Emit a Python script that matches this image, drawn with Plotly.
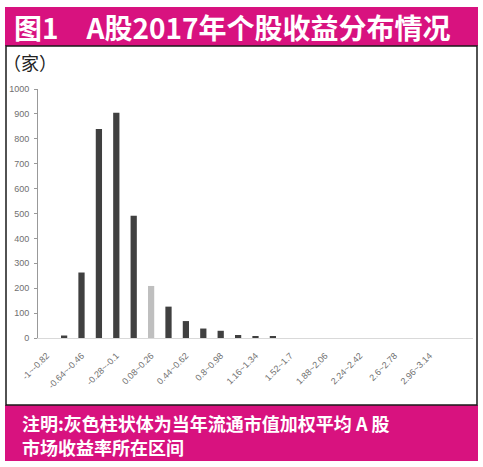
import plotly.graph_objects as go

# return bins (0.18 wide) and number of stocks in each
bins = ["-1~-0.82", "-0.82~-0.64", "-0.64~-0.46", "-0.46~-0.28", "-0.28~-0.1",
        "-0.1~0.08", "0.08~0.26", "0.26~0.44", "0.44~0.62", "0.62~0.8",
        "0.8~0.98", "0.98~1.16", "1.16~1.34", "1.34~1.52", "1.52~1.7",
        "1.7~1.88", "1.88~2.06", "2.06~2.24", "2.24~2.42", "2.42~2.6",
        "2.6~2.78", "2.78~2.96", "2.96~3.14"]
counts = [0, 10, 263, 839, 905, 491, 209, 126, 68, 38, 29, 12, 6, 5,
          0, 0, 0, 0, 0, 0, 0, 0, 0]
market_bin = "0.08~0.26"   # bin holding the cap-weighted market return
y_ticks = [0, 100, 200, 300, 400, 500, 600, 700, 800, 900, 1000]

title_text = "图1　A股2017年个股收益分布情况"
unit_text = "（家）"
note_line1 = "注明:灰色柱状体为当年流通市值加权平均 A 股"
note_line2 = "市场收益率所在区间"

W, H = 483, 467
pink = "#d8127f"
dark = "#404040"
light = "#bfbfbf"

bar_colors = [light if b == market_bin else dark for b in bins]
idx = list(range(len(bins)))


def px(x):
    return x / W


def py(y):
    return 1 - y / H


fig = go.Figure()
fig.add_trace(go.Bar(
    x=idx, y=counts, marker_color=bar_colors, marker_line_width=0,
    width=0.36, hoverinfo="skip"
))

shapes = [
    # title bar
    dict(type="rect", xref="paper", yref="paper", x0=px(5), x1=px(478),
         y0=py(46), y1=py(7), fillcolor=pink, line_width=0, layer="below"),
    # chart frame
    dict(type="rect", xref="paper", yref="paper", x0=px(6), x1=px(477),
         y0=py(405), y1=py(46), fillcolor="rgba(0,0,0,0)",
         line=dict(color="#1a1a1a", width=1.5)),
    # note bar
    dict(type="rect", xref="paper", yref="paper", x0=px(5), x1=px(478),
         y0=py(461), y1=py(405), fillcolor=pink, line_width=0, layer="below"),
]

cjk = "Noto Sans CJK SC"
annotations = [
    dict(text="<b>" + title_text + "</b>", xref="paper", yref="paper",
         x=px(12), y=py(27), xanchor="left", yanchor="middle", showarrow=False,
         font=dict(family=cjk, size=28, color="white")),
    dict(text=unit_text, xref="paper", yref="paper",
         x=px(1), y=py(62), xanchor="left", yanchor="middle", showarrow=False,
         font=dict(family=cjk, size=18, color="#222222")),
    dict(text="<b>" + note_line1 + "</b>", xref="paper", yref="paper",
         x=px(20), y=py(423), xanchor="left", yanchor="middle", showarrow=False,
         font=dict(family=cjk, size=18, color="white")),
    dict(text="<b>" + note_line2 + "</b>", xref="paper", yref="paper",
         x=px(20), y=py(447), xanchor="left", yanchor="middle", showarrow=False,
         font=dict(family=cjk, size=18, color="white")),
]

tick_font = dict(family="Liberation Sans Narrow, Liberation Sans", size=9, color="#707070")

fig.update_layout(
    width=W, height=H,
    margin=dict(l=0, r=0, t=0, b=0),
    paper_bgcolor="white", plot_bgcolor="white",
    showlegend=False,
    shapes=shapes, annotations=annotations,
    xaxis=dict(
        domain=[px(38), px(473)], range=[-0.5, 24.5], automargin=False,
        tickmode="array", tickvals=idx[::2], ticktext=bins[::2],
        tickangle=-45, tickfont=tick_font, ticks="", ticklabelstandoff=8,
        showline=True, linecolor="#d9d9d9", linewidth=1,
        showgrid=False, zeroline=False, fixedrange=True,
    ),
    yaxis=dict(
        domain=[py(338), py(89)], range=[0, 1000], automargin=False,
        tickmode="array", tickvals=y_ticks,
        tickfont=tick_font, ticks="outside", ticklen=3, tickcolor="#999999",
        ticklabelstandoff=3,
        showline=True, linecolor="#999999", linewidth=1,
        showgrid=False, zeroline=False, fixedrange=True,
    ),
)

# page body has a default 8px margin; drop it so the figure sits at 0,0
fig.write_html("out.html", config={"displayModeBar": False},
               post_script="document.body.style.margin='0';")
